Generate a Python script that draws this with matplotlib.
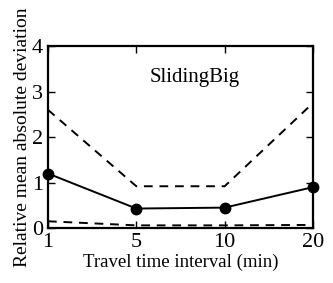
import matplotlib.pyplot as plt

plt.rcParams['font.family'] = ['Liberation Serif', 'DejaVu Serif']

intervals = ['1', '5', '10', '20']
mean_dev = [1.2, 0.43, 0.45, 0.9]
upper = [2.6, 0.92, 0.92, 2.75]
lower = [0.15, 0.06, 0.06, 0.07]

x = range(len(intervals))

fig = plt.figure(figsize=(3.33, 2.83), dpi=100)
ax = fig.add_axes([0.144, 0.194, 0.796, 0.643])

ax.plot(x, mean_dev, color='k', marker='o', markersize=7.5, linewidth=1.4, clip_on=False, zorder=3)
ax.plot(x, upper, color='k', linestyle=(0, (4.5, 3.5)), linewidth=1.4)
ax.plot(x, lower, color='k', linestyle=(0, (4.5, 3.5)), linewidth=1.4)

ax.set_xlim(0, 3)
ax.set_ylim(0, 4)
ax.set_xticks(list(x))
ax.set_xticklabels(intervals)
ax.set_yticks([0, 1, 2, 3, 4])
ax.tick_params(direction='in', top=True, right=True, labelsize=16, length=5, width=1, pad=3.5)
for s in ax.spines.values():
    s.set_linewidth(1.6)

ax.text(1.66, 3.3, 'SlidingBig', ha='center', va='center', fontsize=15)
ax.set_xlabel('Travel time interval (min)', fontsize=13.5, labelpad=1)
ax.set_ylabel('Relative mean absolute deviation', fontsize=14, labelpad=1)

plt.savefig('out.png', dpi=100)
